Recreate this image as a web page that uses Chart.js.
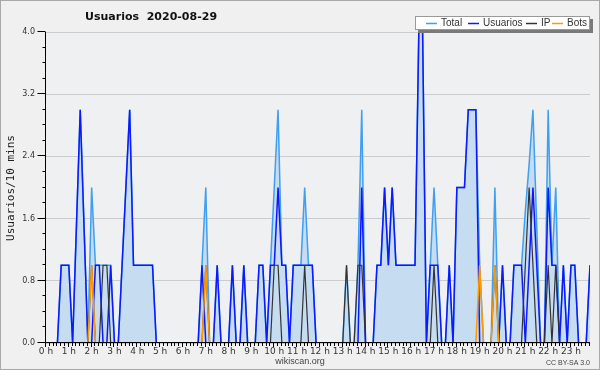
<!DOCTYPE html>
<html>
<head>
<meta charset="utf-8">
<script src="https://cdn.jsdelivr.net/npm/chart.js@4/dist/chart.umd.min.js"></script>
<style>
  html, body { margin: 0; padding: 0; background: #f0f0f0; }
</style>
</head>
<body>
<canvas id="chart" width="600" height="370"></canvas>
<script>
/* Usuarios 2020-08-29 — wikiscan activity, 10 minute buckets */

const hourLabels = ['0 h','1 h','2 h','3 h','4 h','5 h','6 h','7 h','8 h','9 h','10 h','11 h',
  '12 h','13 h','14 h','15 h','16 h','17 h','18 h','19 h','20 h','21 h','22 h','23 h'];

// 144 values each (one per 10 min), rows of 2 hours
const total = [
  0,0,0,0,1,1,1,0,1.5,3,1.5,0,
  2,1,1,1,1,1,0,0,1,2,3,1,
  1,1,1,1,1,0,0,0,0,0,0,0,
  0,0,0,0,0,1,2,0,0,1,0,0,
  0,1,0,0,1,0,0,0,1,1,0,1,
  2,3,1,1,0,1,1,1,2,1,1,0,
  0,0,0,0,0,0,0,1,0,0,1,3,
  0,0,0,1,1,2,1,2,1,1,1,1,
  1,1,4,4,0,1,2,1,0,0,1,0,
  2,2,2,3,3,3,1,0,0,0,2,0,
  1,0,0,1,1,1,1.7,2.3,3,1.5,0,0,
  3,1,2,0,1,0,1,1,0,0,0,1
];
const usuarios = [
  0,0,0,0,1,1,1,0,1.5,3,1.5,0,
  0,1,1,0,0,1,0,0,1,2,3,1,
  1,1,1,1,1,0,0,0,0,0,0,0,
  0,0,0,0,0,1,0,0,0,1,0,0,
  0,1,0,0,1,0,0,0,1,1,0,1,
  1,2,1,1,0,1,1,1,1,1,1,0,
  0,0,0,0,0,0,0,0,0,0,0,2,
  0,0,0,1,1,2,1,2,1,1,1,1,
  1,1,4,4,0,1,1,1,0,0,1,0,
  2,2,2,3,3,3,0,0,0,0,0,0,
  1,0,0,1,1,1,0,1,2,1,0,0,
  2,1,1,0,1,0,1,1,0,0,0,1
];
const ip = [
  0,0,0,0,0,0,0,0,0,0,0,0,
  1,0,0,1,1,0,0,0,0,0,0,0,
  0,0,0,0,0,0,0,0,0,0,0,0,
  0,0,0,0,0,0,1,0,0,0,0,0,
  0,0,0,0,0,0,0,0,0,0,0,0,
  1,1,0,0,0,0,0,0,1,0,0,0,
  0,0,0,0,0,0,0,1,0,0,1,1,
  0,0,0,0,0,0,0,0,0,0,0,0,
  0,0,0,0,0,0,1,0,0,0,0,0,
  0,0,0,0,0,0,0,0,0,0,1,0,
  0,0,0,0,0,0,1,2,1,0,0,0,
  1,0,1,0,0,0,0,0,0,0,0,0
];
const bots = [
  0,0,0,0,0,0,0,0,0,0,0,0,
  1,0,0,0,0,0,0,0,0,0,0,0,
  0,0,0,0,0,0,0,0,0,0,0,0,
  0,0,0,0,0,0,1,0,0,0,0,0,
  0,0,0,0,0,0,0,0,0,0,0,0,
  0,0,0,0,0,0,0,0,0,0,0,0,
  0,0,0,0,0,0,0,0,0,0,0,0,
  0,0,0,0,0,0,0,0,0,0,0,0,
  0,0,0,0,0,0,0,0,0,0,0,0,
  0,0,0,0,0,0,1,0,0,0,1,0,
  0,0,0,0,0,0,0,0,0,0,0,0,
  0,0,0,0,0,0,0,0,0,0,0,0
];

const colors = { Total: '#3f9ff0', Usuarios: '#0c18ff', IP: '#333333', Bots: '#ff9900' };
const pts = arr => arr.map((v, i) => ({ x: i / 6, y: v }));

// backgrounds + outer frame
const bgPlugin = {
  id: 'bg',
  beforeDraw(chart) {
    const { ctx, chartArea: a } = chart;
    ctx.save();
    ctx.fillStyle = '#f0f0f0';
    ctx.fillRect(0, 0, chart.width, chart.height);
    ctx.fillStyle = '#eef0f2';
    ctx.fillRect(a.left, a.top, a.right - a.left, a.bottom - a.top);
    ctx.restore();
  }
};

// axes, ticks, title, legend, footer
const decoPlugin = {
  id: 'deco',
  afterDraw(chart) {
    const { ctx, chartArea: a, scales: { x, y } } = chart;
    const base = a.bottom - 0.5;
    ctx.save();
    ctx.strokeStyle = '#000';
    ctx.lineWidth = 1;
    ctx.beginPath();
    ctx.moveTo(a.left - 0.5, a.top);
    ctx.lineTo(a.left - 0.5, base);
    ctx.lineTo(a.right, base);
    // y ticks every 0.2, long ones at labels
    for (let k = 0; k <= 20; k++) {
      const py = Math.round(y.getPixelForValue(k * 0.2)) - 0.5;
      const len = k % 4 === 0 ? 8 : 3;
      ctx.moveTo(a.left - 0.5 - len, py);
      ctx.lineTo(a.left - 0.5, py);
    }
    // x ticks every 10 min
    for (let i = 0; i < total.length; i++) {
      const px = Math.round(x.getPixelForValue(i / 6)) - 0.5;
      ctx.moveTo(px, base);
      ctx.lineTo(px, base + (i % 6 === 0 ? 4.5 : 3.5));
    }
    ctx.stroke();

    // frame
    ctx.strokeStyle = '#a8a8a8';
    ctx.strokeRect(0.5, 0.5, chart.width - 1, chart.height - 1);

    // title
    ctx.fillStyle = '#111';
    ctx.font = 'bold 11px "DejaVu Sans"';
    ctx.textBaseline = 'middle';
    ctx.textAlign = 'left';
    ctx.fillText('Usuarios  2020-08-29', 85, 17);

    // y axis title
    ctx.save();
    ctx.translate(11, 188);
    ctx.rotate(-Math.PI / 2);
    ctx.textAlign = 'center';
    ctx.font = '11px "DejaVu Sans Mono"';
    ctx.fillStyle = '#222';
    ctx.fillText('Usuarios/10 mins', 0, 0);
    ctx.restore();

    // legend box with shadow
    ctx.fillStyle = '#7a7a7a';
    ctx.fillRect(418, 19, 175, 14);
    ctx.fillStyle = '#fff';
    ctx.fillRect(415, 16, 175, 14);
    ctx.strokeStyle = '#999';
    ctx.strokeRect(415.5, 16.5, 174, 13);
    const items = [['Total', 441], ['Usuarios', 483], ['IP', 541], ['Bots', 567]];
    ctx.font = '10px "Liberation Sans"';
    items.forEach(([name, tx]) => {
      ctx.strokeStyle = colors[name];
      ctx.lineWidth = 1.5;
      ctx.beginPath();
      ctx.moveTo(tx - 15, 23.5);
      ctx.lineTo(tx - 4, 23.5);
      ctx.stroke();
      ctx.fillStyle = '#333';
      ctx.fillText(name, tx, 23.5);
    });

    // footer
    ctx.fillStyle = '#444';
    ctx.textAlign = 'center';
    ctx.font = '9px "Liberation Sans"';
    ctx.fillText('wikiscan.org', 300, 362);
    ctx.font = '7px "Liberation Sans"';
    ctx.textAlign = 'right';
    ctx.fillText('CC BY-SA 3.0', 590, 363);
    ctx.restore();
  }
};

const lineDefaults = { pointRadius: 0, tension: 0, borderWidth: 1.5, fill: false, clip: 0 };

new Chart(document.getElementById('chart'), {
  type: 'line',
  data: {
    datasets: [
      { ...lineDefaults, label: 'Total', data: pts(total), borderColor: colors.Total,
        backgroundColor: '#c6dcf0', fill: 'origin', order: 4 },
      { ...lineDefaults, label: 'Usuarios', data: pts(usuarios), borderColor: colors.Usuarios, order: 3 },
      { ...lineDefaults, label: 'IP', data: pts(ip), borderColor: colors.IP, borderWidth: 1.2, order: 2 },
      { ...lineDefaults, label: 'Bots', data: pts(bots), borderColor: colors.Bots, order: 1 }
    ]
  },
  options: {
    responsive: false,
    animation: false,
    layout: { padding: { top: 32, right: 10, left: 0, bottom: 0 } },
    plugins: { legend: { display: false }, title: { display: false }, tooltip: { enabled: false } },
    scales: {
      x: {
        type: 'linear', min: 0, max: (total.length - 1) / 6,
        afterFit: s => { s.height = 27; },
        afterBuildTicks: s => { s.ticks = hourLabels.map((_, h) => ({ value: h })); },
        ticks: { callback: v => hourLabels[v], font: { size: 9, family: 'DejaVu Sans' },
                 color: '#333', padding: 3, maxRotation: 0, autoSkip: false },
        grid: { display: false, drawTicks: false },
        border: { display: false }
      },
      y: {
        min: 0, max: 4,
        afterFit: s => { s.width = 46; },
        ticks: { stepSize: 0.8, callback: v => v.toFixed(1), font: { size: 8, family: 'DejaVu Sans' },
                 color: '#333', padding: 11 },
        grid: { color: '#cccccc', drawTicks: false },
        border: { display: false }
      }
    }
  },
  plugins: [bgPlugin, decoPlugin]
});
</script>
</body>
</html>
